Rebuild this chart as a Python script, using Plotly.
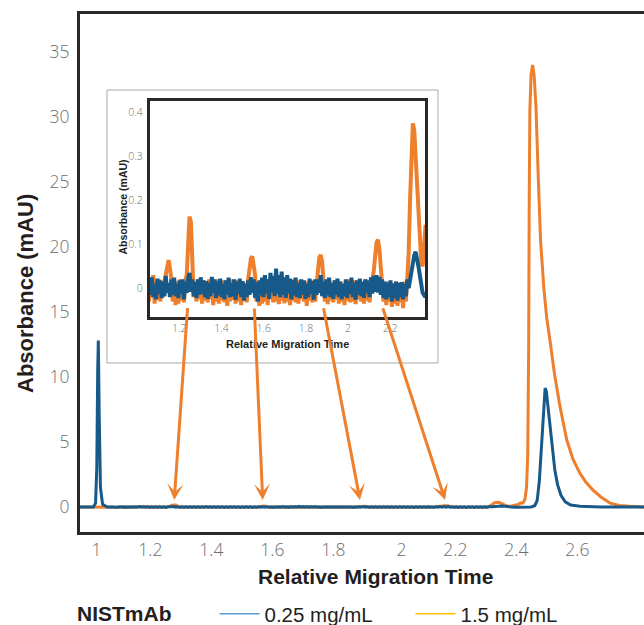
import numpy as np
import plotly.graph_objects as go

# ---------------- data ----------------
# early part of the electropherogram (system peak at RMT 1.0)
blue_pre_t = [0.93, 0.985, 0.992, 0.996, 0.999, 1.001, 1.004, 1.008, 1.015, 1.03, 1.045]
blue_pre_v = [0.0, 0.0, 0.3, 3.0, 10.5, 12.8, 7.0, 1.5, 0.2, 0.0, 0.0]
orange_pre_t = [0.93, 1.045]
orange_pre_v = [0.0, 0.0]

# detector samples of the zoomed (inset) region, RMT 1.05 .. 2.373
noise_t0 = 1.05
noise_dt = 0.006615
blue_noise = [
    -0.01,
    0.02, -0.015, 0.025, -0.02, 0.01, -0.025, 0.022, -0.012, 0.018, -0.022,
    0.015, -0.018, 0.028, -0.01, 0.012, -0.02, 0.02, -0.015, 0.024, -0.018,
    0.01, -0.022, 0.018, -0.012, 0.02, -0.025, 0.015, -0.01, 0.022, 0.035,
    -0.008, 0.02, -0.018, 0.014, -0.022, 0.02, -0.015, 0.025, -0.012, 0.018,
    -0.02, 0.016, -0.024, 0.012, -0.018, 0.026, -0.01, 0.02, -0.022, 0.015,
    -0.016, 0.022, -0.02, 0.01, -0.025, 0.018, -0.014, 0.024, -0.02, 0.012,
    -0.018, 0.02, -0.026, 0.015, -0.012, 0.022, -0.02, 0.016, -0.028, 0.01,
    -0.02, 0.018, -0.015, 0.025, -0.01, 0.02, -0.022, 0.014, -0.03, 0.018,
    -0.016, 0.024, -0.02, 0.03, -0.012, 0.02, -0.024, 0.035, -0.01, 0.028,
    -0.018, 0.045, -0.012, 0.03, -0.02, 0.038, -0.015, 0.025, -0.022, 0.03,
    -0.012, 0.022, -0.025, 0.018, -0.016, 0.024, -0.02, 0.012, -0.022, 0.02,
    -0.014, 0.018, -0.024, 0.01, -0.02, 0.022, -0.012, 0.016, -0.026, 0.02,
    -0.015, 0.02, -0.01, 0.03, -0.018, 0.015, -0.022, 0.02, -0.016, 0.024,
    -0.02, 0.012, -0.024, 0.018, -0.014, 0.022, -0.02, 0.015, -0.025, 0.01,
    -0.018, 0.02, -0.022, 0.016, -0.012, 0.024, -0.02, 0.012, -0.026, 0.018,
    -0.014, 0.022, -0.018, 0.015, -0.022, 0.02, -0.01, 0.018, -0.02, 0.025,
    -0.012, 0.028, -0.008, 0.03, -0.01, 0.026, -0.015, 0.02, -0.022, 0.015,
    -0.025, 0.012, -0.02, 0.018, -0.03, 0.01, -0.022, 0.015, -0.028, 0.012,
    -0.02, 0.014, -0.025, 0.01, -0.018, 0.02, 0.0, 0.02, 0.035, 0.055,
    0.075, 0.083, 0.07, 0.05, 0.03, 0.01, -0.01, -0.015, -0.02, -0.01,
]
orange_noise = [
    0.015,
    -0.03, 0.025, -0.02, 0.03, -0.035, 0.015, -0.025, 0.02, -0.03, 0.01,
    -0.02, 0.015, 0.03, 0.05, 0.064, 0.045, 0.02, -0.03, 0.01, -0.038,
    0.015, -0.035, 0.02, -0.028, 0.012, -0.032, 0.018, 0.03, 0.13, 0.163,
    0.15, 0.05, -0.02, 0.015, -0.03, 0.02, -0.025, 0.01, -0.035, 0.018,
    -0.028, 0.012, -0.032, 0.02, -0.025, 0.015, -0.038, 0.01, -0.03, 0.02,
    -0.035, 0.012, -0.028, 0.018, -0.032, 0.01, -0.04, 0.015, -0.03, 0.02,
    -0.026, 0.012, -0.035, 0.018, -0.03, 0.01, -0.038, 0.015, -0.028, 0.012,
    -0.032, 0.02, 0.05, 0.068, 0.072, 0.05, 0.03, -0.03, 0.01, -0.04,
    0.015, -0.035, 0.012, -0.03, 0.02, -0.038, 0.01, -0.025, 0.018, -0.032,
    0.012, -0.03, 0.02, -0.036, 0.015, -0.028, 0.01, -0.034, 0.018, -0.03,
    0.012, -0.038, 0.015, -0.028, 0.02, -0.032, 0.01, -0.035, 0.018, -0.025,
    0.012, -0.03, 0.015, -0.04, 0.01, -0.028, 0.018, -0.032, 0.012, -0.03,
    0.02, 0.04, 0.07, 0.076, 0.06, 0.02, -0.03, 0.012, -0.036, 0.015,
    -0.028, 0.01, -0.032, 0.018, -0.025, 0.012, -0.035, 0.015, -0.03, 0.01,
    -0.038, 0.015, -0.028, 0.02, -0.032, 0.01, -0.03, 0.018, -0.036, 0.012,
    -0.025, 0.015, -0.03, 0.01, -0.035, 0.02, -0.028, 0.012, -0.032, 0.018,
    0.02, 0.04, 0.08, 0.105, 0.11, 0.09, 0.05, 0.02, -0.03, 0.012,
    -0.038, 0.015, -0.03, 0.01, -0.042, 0.012, -0.035, 0.015, -0.04, 0.01,
    -0.032, 0.012, -0.045, 0.015, -0.03, 0.02, 0.08, 0.2, 0.33, 0.375,
    0.36, 0.3, 0.22, 0.15, 0.09, 0.06, 0.05, 0.1, 0.14, 0.14,
]

# main peaks
blue_post_t = [2.38, 2.42, 2.432, 2.44, 2.447, 2.453, 2.458, 2.462, 2.466, 2.47, 2.476,
               2.483, 2.49, 2.498, 2.507, 2.518, 2.532, 2.55, 2.58, 2.65, 2.8]
blue_post_v = [-0.01, 0.0, 0.1, 0.5, 2.0, 4.5, 6.8, 8.4, 9.15, 8.9, 7.6,
               5.8, 4.2, 2.8, 1.7, 0.9, 0.4, 0.15, 0.05, 0.0, 0.0]
orange_post_t = [2.378, 2.385, 2.393, 2.40, 2.405, 2.409, 2.412, 2.414, 2.416, 2.42, 2.425,
                 2.43, 2.436, 2.443, 2.451, 2.462, 2.471, 2.482, 2.497, 2.515, 2.537,
                 2.557, 2.58, 2.6, 2.623, 2.65, 2.679, 2.71, 2.744, 2.8]
orange_post_v = [0.2, 0.3, 0.3, 0.6, 1.5, 4.0, 12.0, 24.0, 30.5, 33.3, 34.0,
                 33.2, 30.8, 25.7, 20.5, 16.8, 14.6, 12.8, 10.2, 7.7, 5.15,
                 3.7, 2.6, 1.9, 1.3, 0.75, 0.3, 0.12, 0.05, 0.0]

# arrows: minor peaks highlighted in the inset
arrow_rmt = [1.250, 1.540, 1.859, 2.138]

x_ticks = [1, 1.2, 1.4, 1.6, 1.8, 2, 2.2, 2.4, 2.6]
x_ticktext = ["1", "1.2", "1.4", "1.6", "1.8", "2", "2.2", "2.4", "2.6"]
y_ticks = [0, 5, 10, 15, 20, 25, 30, 35]
x2_ticks = [1.2, 1.4, 1.6, 1.8, 2.0, 2.2]
x2_ticktext = ["1.2", "1.4", "1.6", "1.8", "2", "2.2"]
y2_ticks = [0, 0.1, 0.2, 0.3, 0.4]
y2_ticktext = ["0", "0.1", "0.2", "0.3", "0.4"]

legend_title = "NISTmAb"
series_names = ["0.25 mg/mL", "1.5 mg/mL"]

# ---------------- assemble series ----------------
noise_t = [round(noise_t0 + i * noise_dt, 5) for i in range(len(blue_noise))]
blue_t = blue_pre_t + noise_t + blue_post_t
blue_v = blue_pre_v + blue_noise + blue_post_v
orange_t = orange_pre_t + noise_t + orange_post_t
orange_v = orange_pre_v + orange_noise + orange_post_v

BLUE = "#175a8a"
ORANGE = "#ee7f2d"
AXIS = "#2b2725"
TICK = "#6d6e71"
TXT = "#231f20"

W, H = 644, 625
L, R, T, B = 80, 0, 14, 93
PW, PH = W - L - R, H - T - B


def px(xp):
    return (xp - L) / PW


def py(yp):
    return (H - B - yp) / PH


fig = go.Figure()
for xa, ya, lw in (("x", "y", 3), ("x2", "y2", 4)):
    fig.add_trace(go.Scatter(x=orange_t, y=orange_v, mode="lines", xaxis=xa, yaxis=ya,
                             line=dict(color=ORANGE, width=lw), showlegend=False,
                             hoverinfo="skip"))
    fig.add_trace(go.Scatter(x=blue_t, y=blue_v, mode="lines", xaxis=xa, yaxis=ya,
                             line=dict(color=BLUE, width=lw), showlegend=False,
                             hoverinfo="skip"))

# legend entries
fig.add_trace(go.Scatter(x=[None], y=[None], mode="lines", name=series_names[0],
                         line=dict(color="#5b9bd5", width=1.5)))
fig.add_trace(go.Scatter(x=[None], y=[None], mode="lines", name=series_names[1],
                         line=dict(color="#ffc000", width=1.5)))

tickfont = dict(family="Open Sans", size=17.5, color=TICK, weight=300)
smalltick = dict(family="Open Sans", size=10.5, color=TICK, weight=300)
fig.update_layout(
    width=W, height=H,
    margin=dict(l=L, r=R, t=T, b=B, autoexpand=False),
    paper_bgcolor="white", plot_bgcolor="white",
    xaxis=dict(range=[0.94098, 2.7902], showline=True, linewidth=3, linecolor=AXIS,
               mirror=True, ticks="", showgrid=False, zeroline=False,
               tickvals=x_ticks, ticktext=x_ticktext, tickfont=tickfont,
               ticklabelposition="outside left", ticklabelshift=5),
    yaxis=dict(range=[-1.923, 37.923], showline=True, linewidth=3, linecolor=AXIS,
               ticks="", showgrid=False, zeroline=False, tickvals=y_ticks,
               tickfont=tickfont, ticklabelstandoff=4),
    xaxis2=dict(domain=[px(149.8), px(425.2)], anchor="y2", range=[1.0602, 2.3654],
                showline=True, linewidth=3, linecolor=AXIS, mirror=True, ticks="",
                showgrid=False, zeroline=False, tickvals=x2_ticks, ticktext=x2_ticktext,
                tickfont=smalltick),
    yaxis2=dict(domain=[py(316.8), py(100.5)], anchor="x2", range=[-0.0648, 0.4268],
                showline=True, linewidth=3, linecolor=AXIS, mirror=True, ticks="",
                showgrid=False, zeroline=False, tickvals=y2_ticks, ticktext=y2_ticktext,
                tickfont=smalltick, ticklabelstandoff=2),
    legend=dict(orientation="h", xref="container", yref="container",
                x=75 / W, y=(H - 614) / H, xanchor="left", yanchor="middle",
                title=dict(text="<b>" + legend_title + "</b>" + "\u00a0" * 6, side="left",
                           font=dict(family="Liberation Sans", size=21, color=TXT)),
                font=dict(family="Liberation Sans", size=20.5, color=TXT),
                entrywidth=141, itemwidth=40),
    shapes=[dict(type="rect", xref="paper", yref="paper", x0=px(107), x1=px(438),
                 y0=py(363), y1=py(90), line=dict(color="#a7a9ac", width=1),
                 fillcolor="white", layer="below")],
)

ann = []
titlefont = dict(family="Liberation Sans", size=21, color=TXT, weight="bold")
ann.append(dict(text="Relative Migration Time", xref="paper", yref="paper",
                x=px(375.8), y=py(576), showarrow=False, font=titlefont,
                xanchor="center", yanchor="middle"))
ann.append(dict(text="Absorbance (mAU)", xref="paper", yref="paper",
                x=px(25), y=py(294), showarrow=False, textangle=-90,
                font=dict(family="Liberation Sans", size=22, color=TXT, weight="bold"),
                xanchor="center", yanchor="middle"))
smallfont = dict(family="Liberation Sans", size=11, color=TXT, weight="bold")
ann.append(dict(text="Relative Migration Time", xref="paper", yref="paper",
                x=px(287.5), y=py(344), showarrow=False, font=smallfont,
                xanchor="center", yanchor="middle"))
ann.append(dict(text="Absorbance (mAU)", xref="paper", yref="paper",
                x=px(122), y=py(207.5), showarrow=False, textangle=-90,
                font=dict(family="Liberation Sans", size=10.5, color=TXT, weight="bold"),
                xanchor="center", yanchor="middle"))
tails = [(13.4, -193.3), (-8.4, -193.0), (-36.7, -193.3), (-62.7, -193.3)]
for xr, (dx, dy) in zip(arrow_rmt, tails):
    ann.append(dict(x=xr, y=0.54, xref="x", yref="y", ax=dx, ay=dy, text="",
                    showarrow=True, arrowhead=3, arrowsize=0.9, arrowwidth=3,
                    arrowcolor=ORANGE, standoff=0))
fig.update_layout(annotations=ann)

fig.write_html("out.html")
